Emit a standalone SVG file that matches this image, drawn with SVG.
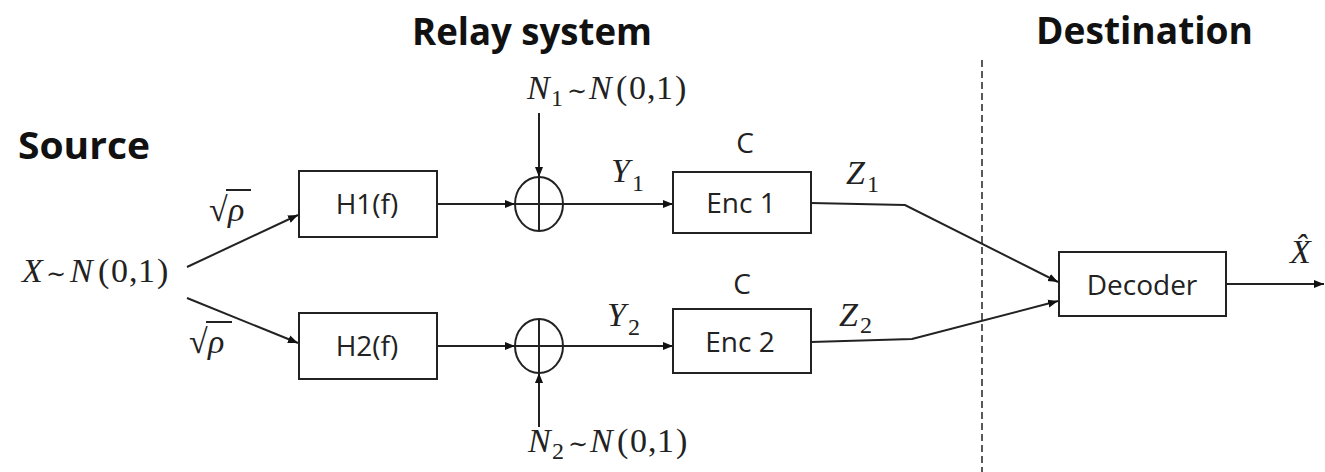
<svg xmlns="http://www.w3.org/2000/svg" width="1325" height="472" viewBox="0 0 1325 472">
<defs>
<marker id="arr" viewBox="0 0 10 10" refX="10" refY="5" markerWidth="10" markerHeight="10" markerUnits="userSpaceOnUse" orient="auto">
<path d="M0,1 L10,5 L0,9 Z" fill="#111"/>
</marker>
<style>
.box{fill:#fff;stroke:#222;stroke-width:2}
.lbl{font-family:"Open Sans","Noto Sans",sans-serif;font-size:28px;fill:#222;text-anchor:middle}
.ttl{font-family:"Open Sans","Noto Sans",sans-serif;font-weight:bold;font-size:38px;fill:#111}
.m{font-family:"Liberation Serif",serif;font-size:34px;fill:#222}
.mi{font-style:italic}
.sub{font-size:24px}
.til{font-family:"DejaVu Serif",serif;font-size:24px}
.ln{fill:none;stroke:#222;stroke-width:2}
.ar{fill:none;stroke:#222;stroke-width:2;marker-end:url(#arr)}
</style>
</defs>
<rect width="1325" height="472" fill="#fff"/>

<g id="titles">
<text class="ttl" x="412" y="45" textLength="240" lengthAdjust="spacingAndGlyphs">Relay system</text>
<text class="ttl" x="1036" y="44" textLength="217" lengthAdjust="spacingAndGlyphs">Destination</text>
<text class="ttl" x="18" y="159" textLength="132" lengthAdjust="spacingAndGlyphs">Source</text>
</g>

<g id="divider">
<line x1="982" y1="60" x2="982" y2="472" stroke="#222" stroke-width="1.5" stroke-dasharray="7 4"/>
</g>

<g id="source">
<text class="m" y="282" font-size="38"><tspan class="mi" x="22">X</tspan><tspan class="til" x="46" font-size="26">∼</tspan><tspan class="mi" x="70">N</tspan><tspan x="98 111 129 138 157">(0,1)</tspan></text>
</g>

<g id="gain1">
<text class="m" y="221"><tspan x="209">√</tspan><tspan class="mi" x="228">ρ</tspan></text>
<line x1="226" y1="190" x2="251" y2="190" stroke="#222" stroke-width="2"/>
</g>
<g id="gain2">
<text class="m" y="353"><tspan x="189">√</tspan><tspan class="mi" x="208">ρ</tspan></text>
<line x1="206" y1="322" x2="232" y2="322" stroke="#222" stroke-width="2"/>
</g>

<g id="H1">
<rect class="box" x="299" y="171" width="138" height="66"/>
<text class="lbl" x="367" y="214">H1(f)</text>
</g>
<g id="H2">
<rect class="box" x="299" y="313" width="138" height="66"/>
<text class="lbl" x="367" y="356">H2(f)</text>
</g>

<g id="sum1">
<ellipse cx="539" cy="204" rx="24" ry="27" class="ln"/>
<line x1="515" y1="204" x2="563" y2="204" class="ln"/>
<line x1="539" y1="177" x2="539" y2="231" class="ln"/>
</g>
<g id="sum2">
<ellipse cx="539" cy="346" rx="24" ry="27" class="ln"/>
<line x1="515" y1="346" x2="563" y2="346" class="ln"/>
<line x1="539" y1="319" x2="539" y2="373" class="ln"/>
</g>

<g id="noise1">
<text class="m" y="99"><tspan class="mi" x="527">N</tspan><tspan class="sub" x="551" y="106">1</tspan><tspan class="til" x="567" y="99">∼</tspan><tspan class="mi" x="589">N</tspan><tspan x="616 629 647 656 675">(0,1)</tspan></text>
</g>
<g id="noise2">
<text class="m" y="452"><tspan class="mi" x="528">N</tspan><tspan class="sub" x="552" y="459">2</tspan><tspan class="til" x="568" y="452">∼</tspan><tspan class="mi" x="590">N</tspan><tspan x="617 630 648 657 676">(0,1)</tspan></text>
</g>

<g id="Enc1">
<text class="lbl" x="745" y="153">C</text>
<rect class="box" x="673" y="172" width="138" height="61"/>
<text class="lbl" x="741" y="213">Enc 1</text>
</g>
<g id="Enc2">
<text class="lbl" x="742" y="294">C</text>
<rect class="box" x="673" y="309" width="138" height="64"/>
<text class="lbl" x="740" y="352">Enc 2</text>
</g>

<g id="Decoder">
<rect class="box" x="1059" y="252" width="167" height="64"/>
<text class="lbl" x="1142" y="295">Decoder</text>
</g>

<g id="signal-labels">
<text class="m"><tspan class="mi" x="611" y="182">Y</tspan><tspan class="sub" x="632" y="191">1</tspan></text>
<text class="m"><tspan class="mi" x="607" y="326">Y</tspan><tspan class="sub" x="628" y="335">2</tspan></text>
<text class="m"><tspan class="mi" x="846" y="184">Z</tspan><tspan class="sub" x="867" y="192">1</tspan></text>
<text class="m"><tspan class="mi" x="839" y="326">Z</tspan><tspan class="sub" x="860" y="333">2</tspan></text>
<text class="m mi" x="1290" y="263" font-size="30">X̂</text>
</g>

<g id="connectors">
<line class="ar" x1="187" y1="267" x2="298" y2="215"/>
<line class="ar" x1="187" y1="298" x2="298" y2="343"/>
<line class="ar" x1="437" y1="204" x2="515" y2="204"/>
<line class="ar" x1="539" y1="113" x2="539" y2="177"/>
<line class="ar" x1="563" y1="204" x2="673" y2="204"/>
<polyline class="ar" points="811,203 905,205 1058,282"/>
<line class="ar" x1="437" y1="346" x2="515" y2="346"/>
<line class="ar" x1="539" y1="427" x2="539" y2="373"/>
<line class="ar" x1="563" y1="346" x2="673" y2="346"/>
<polyline class="ar" points="811,342 912,339 1058,301"/>
<line class="ar" x1="1226" y1="284" x2="1324" y2="284"/>
</g>
</svg>
